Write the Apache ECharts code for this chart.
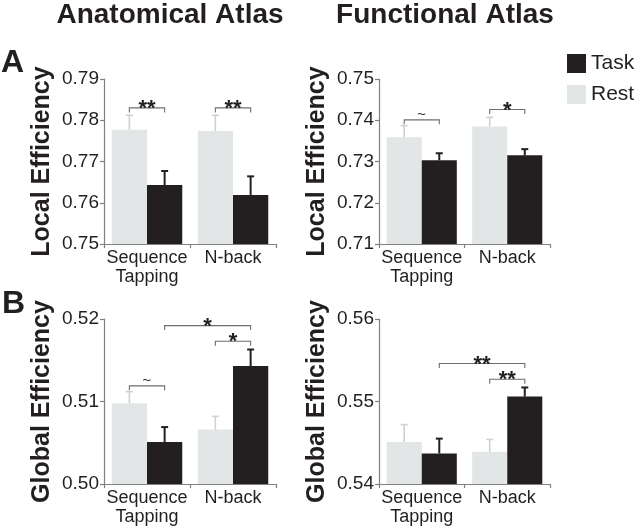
<!DOCTYPE html>
<html>
<head>
<meta charset="utf-8">
<script src="https://cdn.jsdelivr.net/npm/echarts@6/dist/echarts.min.js"></script>
<style>html,body{margin:0;padding:0;background:#fff;}#c{width:640px;height:532px;}</style>
</head>
<body>
<div id="c"></div>
<script>
// ---- data ----
const categories = ['Sequence\nTapping', 'N-back'];
const seriesNames = ['Rest', 'Task'];

// Local efficiency, anatomical atlas
const localAnatRest = [0.7777, 0.7774];
const localAnatRestSem = [0.0035, 0.0038];
const localAnatTask = [0.7643, 0.7619];
const localAnatTaskSem = [0.0034, 0.0045];
// Local efficiency, functional atlas
const localFuncRest = [0.7359, 0.7385];
const localFuncRestSem = [0.0028, 0.0022];
const localFuncTask = [0.7303, 0.7315];
const localFuncTaskSem = [0.0017, 0.0015];
// Global efficiency, anatomical atlas
const globalAnatRest = [0.5098, 0.5066];
const globalAnatRestSem = [0.0014, 0.0016];
const globalAnatTask = [0.5051, 0.5143];
const globalAnatTaskSem = [0.0018, 0.0020];
// Global efficiency, functional atlas
const globalFuncRest = [0.5451, 0.5439];
const globalFuncRestSem = [0.0021, 0.0015];
const globalFuncTask = [0.5437, 0.5506];
const globalFuncTaskSem = [0.0018, 0.0011];

// y axis ranges [min, max, interval]
const localAnatAxis = [0.75, 0.79, 0.01];
const localFuncAxis = [0.71, 0.75, 0.01];
const globalAnatAxis = [0.50, 0.52, 0.01];
const globalFuncAxis = [0.54, 0.56, 0.01];

// significance brackets: [fromCategory, fromSeries, toCategory, toSeries, yValue, label]
const localAnatBrackets = [[0, 0, 0, 1, 0.7830, '**'], [1, 0, 1, 1, 0.7830, '**']];
const localFuncBrackets = [[0, 0, 0, 1, 0.7401, '~'], [1, 0, 1, 1, 0.7426, '*']];
const globalAnatBrackets = [[0, 0, 0, 1, 0.5119, '~'], [1, 0, 1, 1, 0.5173, '*'], [0, 1, 1, 1, 0.5192, '*']];
const globalFuncBrackets = [[1, 0, 1, 1, 0.5527, '**'], [0, 1, 1, 1, 0.5546, '**']];

const titles = ['Anatomical Atlas', 'Functional Atlas'];
const panelLetters = ['A', 'B'];
const yNames = ['Local Efficiency', 'Local Efficiency', 'Global Efficiency', 'Global Efficiency'];

// ---- styling / layout ----
const FONT = '"Liberation Sans", Arial, Helvetica, sans-serif';
const TXT = '#231f20';
const AXIS = '#808080';
const REST_COLOR = '#e3e6e6';
const REST_ERR = '#cdd1d1';
const TASK_COLOR = '#231f20';
const BAR_FRAC = 0.41;

const panels = [
  { grid: { left: 104, top: 79, width: 172, height: 165 }, rest: localAnatRest, restSem: localAnatRestSem, task: localAnatTask, taskSem: localAnatTaskSem, axis: localAnatAxis, brackets: localAnatBrackets },
  { grid: { left: 379, top: 79, width: 171, height: 165 }, rest: localFuncRest, restSem: localFuncRestSem, task: localFuncTask, taskSem: localFuncTaskSem, axis: localFuncAxis, brackets: localFuncBrackets },
  { grid: { left: 104, top: 319, width: 172, height: 165 }, rest: globalAnatRest, restSem: globalAnatRestSem, task: globalAnatTask, taskSem: globalAnatTaskSem, axis: globalAnatAxis, brackets: globalAnatBrackets },
  { grid: { left: 379, top: 319, width: 171, height: 165 }, rest: globalFuncRest, restSem: globalFuncRestSem, task: globalFuncTask, taskSem: globalFuncTaskSem, axis: globalFuncAxis, brackets: globalFuncBrackets }
];

function barX(api, cat, s) {
  const c = api.coord([cat, 0]);
  const band = api.size([1, 0])[0];
  return c[0] + (s === 0 ? -1 : 1) * band * BAR_FRAC / 2;
}

const grids = [], xAxes = [], yAxes = [], series = [];
panels.forEach((p, i) => {
  grids.push(Object.assign({ containLabel: false }, p.grid));
  xAxes.push({
    type: 'category', gridIndex: i, data: categories,
    axisLine: { onZero: false, lineStyle: { color: AXIS, width: 1.2 } },
    axisTick: { show: true, alignWithLabel: false, length: 4, lineStyle: { color: AXIS, width: 1.2 } },
    axisLabel: { fontSize: 18, lineHeight: 19, color: TXT, fontFamily: FONT, margin: 5, interval: 0 }
  });
  yAxes.push({
    type: 'value', gridIndex: i, min: p.axis[0], max: p.axis[1], interval: p.axis[2],
    name: yNames[i], nameLocation: 'middle', nameGap: 49,
    nameTextStyle: { fontSize: 25, fontWeight: 'bold', color: TXT, fontFamily: FONT },
    axisLine: { show: true, lineStyle: { color: AXIS, width: 1.2 } },
    axisTick: { show: true, length: 4, lineStyle: { color: AXIS, width: 1.2 } },
    splitLine: { show: false },
    axisLabel: { fontSize: 19, color: TXT, fontFamily: FONT, margin: 5, formatter: v => v.toFixed(2) }
  });
  series.push({ type: 'bar', name: 'Rest', xAxisIndex: i, yAxisIndex: i, data: p.rest, barWidth: (BAR_FRAC * 100) + '%', barGap: '0%', itemStyle: { color: REST_COLOR }, z: 2 });
  series.push({ type: 'bar', name: 'Task', xAxisIndex: i, yAxisIndex: i, data: p.task, barWidth: (BAR_FRAC * 100) + '%', barGap: '0%', itemStyle: { color: TASK_COLOR }, z: 2 });
  const errData = [];
  categories.forEach((_, c) => {
    errData.push([c, p.rest[c], p.rest[c] + p.restSem[c], 0]);
    errData.push([c, p.task[c], p.task[c] + p.taskSem[c], 1]);
  });
  series.push({
    type: 'custom', xAxisIndex: i, yAxisIndex: i, data: errData, z: 3, silent: true,
    renderItem: (params, api) => {
      const cat = api.value(0), s = api.value(3);
      const x = barX(api, cat, s);
      const y0 = api.coord([cat, api.value(1)])[1];
      const y1 = api.coord([cat, api.value(2)])[1];
      const col = s === 0 ? REST_ERR : TASK_COLOR;
      const w = s === 0 ? 1.6 : 2;
      return { type: 'group', children: [
        { type: 'line', shape: { x1: x, y1: y0, x2: x, y2: y1 }, style: { stroke: col, lineWidth: w } },
        { type: 'line', shape: { x1: x - 3.5, y1: y1, x2: x + 3.5, y2: y1 }, style: { stroke: col, lineWidth: w } }
      ] };
    }
  });
  const br = p.brackets;
  series.push({
    type: 'custom', xAxisIndex: i, yAxisIndex: i, data: br.map(b => [b[0], b[4]]), z: 4, silent: true,
    renderItem: (params, api) => {
      const b = br[params.dataIndex];
      const xa = barX(api, b[0], b[1]);
      const xb = barX(api, b[2], b[3]);
      const y = api.coord([b[0], b[4]])[1];
      const isTilde = b[5] === '~';
      return { type: 'group', children: [
        { type: 'polyline', shape: { points: [[xa, y + 4.5], [xa, y], [xb, y], [xb, y + 4.5]] }, style: { stroke: '#6d6d6d', lineWidth: 1.1, fill: null } },
        { type: 'text', x: (xa + xb) / 2, y: isTilde ? y - 5 : y + 1,
          style: { text: b[5], fontSize: isTilde ? 15 : 22, fontWeight: isTilde ? 'normal' : 'bold', fontFamily: FONT, fill: TXT, align: 'center', verticalAlign: 'middle' } }
      ] };
    }
  });
});

const graphics = [
  { type: 'text', x: 170, y: 1, style: { text: titles[0], fontSize: 28, fontWeight: 'bold', fontFamily: FONT, fill: TXT, align: 'center', verticalAlign: 'top' } },
  { type: 'text', x: 445, y: 1, style: { text: titles[1], fontSize: 28, fontWeight: 'bold', fontFamily: FONT, fill: TXT, align: 'center', verticalAlign: 'top' } },
  { type: 'text', x: 1, y: 47, style: { text: panelLetters[0], fontSize: 32, fontWeight: 'bold', fontFamily: FONT, fill: TXT, align: 'left', verticalAlign: 'top' } },
  { type: 'text', x: 2, y: 288, style: { text: panelLetters[1], fontSize: 32, fontWeight: 'bold', fontFamily: FONT, fill: TXT, align: 'left', verticalAlign: 'top' } }
];

const chart = echarts.init(document.getElementById('c'), null, { renderer: 'canvas' });
chart.setOption({
  animation: false,
  backgroundColor: '#ffffff',
  textStyle: { fontFamily: FONT },
  grid: grids,
  xAxis: xAxes,
  yAxis: yAxes,
  legend: {
    orient: 'vertical', left: 567, top: 53, padding: 0, itemWidth: 19, itemHeight: 19, itemGap: 10,
    selectedMode: false,
    data: [{ name: 'Task', icon: 'rect' }, { name: 'Rest', icon: 'rect' }],
    textStyle: { fontSize: 21, color: TXT, fontFamily: FONT }
  },
  graphic: graphics,
  series: series
});
</script>
</body>
</html>
